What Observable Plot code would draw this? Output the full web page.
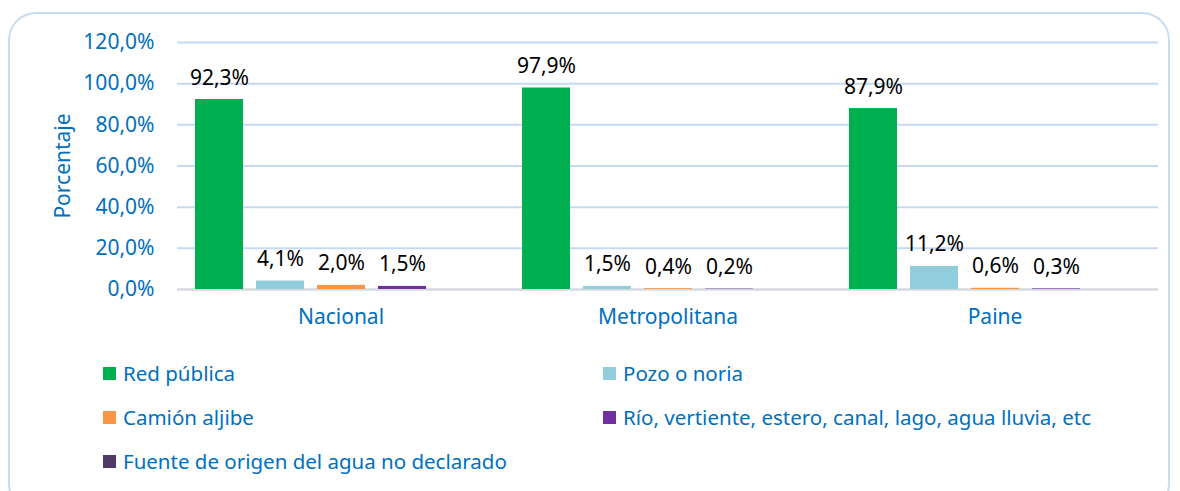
<!DOCTYPE html>
<html>
<head>
<meta charset="utf-8">
<script src="https://cdn.jsdelivr.net/npm/d3@7"></script>
<script src="https://cdn.jsdelivr.net/npm/@observablehq/plot@0.6"></script>
<style>
  html, body { margin: 0; padding: 0; background: #fff; width: 1180px; height: 491px; overflow: hidden; font-family: "Noto Sans", sans-serif; }
  #card { position: absolute; left: 8px; top: 12px; width: 1162px; height: 500px; border: 2px solid #c9dcf0; border-radius: 28px; box-sizing: border-box; }
  #chart { position: absolute; left: 0; top: 0; }
  #ylabel { position: absolute; left: 62px; top: 166px; transform: translate(-50%, -50%) rotate(-90deg); color: #0070c0; font-size: 21px; white-space: nowrap; }
  .leg { position: absolute; display: flex; align-items: center; color: #0070c0; font-size: 20.5px; white-space: nowrap; }
  .leg .sw { width: 13px; height: 13px; margin-right: 7px; }
</style>
</head>
<body>
<div id="card"></div>
<div id="chart"></div>
<div id="ylabel">Porcentaje</div>
<div id="legend"></div>
<script>
const regions = ["Nacional", "Metropolitana", "Paine"];
const series = ["Red pública", "Pozo o noria", "Camión aljibe", "Río, vertiente, estero, canal, lago, agua lluvia, etc", "Fuente de origen del agua no declarado"];
const colors = ["#00b050", "#92cddc", "#f79646", "#7030a0", "#4f3a66"];
const redPublica = [92.3, 97.9, 87.9];
const pozoNoria = [4.1, 1.5, 11.2];
const camionAljibe = [2.0, 0.4, 0.6];
const rioVertiente = [1.5, 0.2, 0.3];
const noDeclarado = [null, null, null];
const yTicks = [0, 20, 40, 60, 80, 100, 120];

const seriesValues = [redPublica, pozoNoria, camionAljibe, rioVertiente, noDeclarado];
const data = [];
regions.forEach((r, i) => {
  series.forEach((s, j) => {
    const v = seriesValues[j][i];
    if (v != null) data.push({region: r, series: s, value: v});
  });
});
const fmt = v => v.toFixed(1).replace(".", ",") + "%";

const chart = Plot.plot({
  width: 1180,
  height: 340,
  marginLeft: 176,
  marginRight: 22,
  marginTop: 42,
  marginBottom: 51,
  style: {fontFamily: "Noto Sans", fontSize: "21px", background: "transparent"},
  fx: {domain: regions, paddingInner: 0, paddingOuter: 0, label: null, axis: null},
  x: {domain: series, paddingInner: 0.22, paddingOuter: 0.27, axis: null},
  y: {domain: [0, 120], label: null, axis: null},
  color: {domain: series, range: colors},
  marks: [
    Plot.gridY(yTicks, {stroke: "#c5d9f1", strokeOpacity: 1, strokeWidth: 2}),
    Plot.ruleY([0], {stroke: "#d9d9d9", strokeWidth: 2}),
    Plot.barY(data, {fx: "region", x: "series", y: "value", fill: "series"}),
    Plot.text(data, {fx: "region", x: "series", y: "value", text: d => fmt(d.value), lineAnchor: "bottom", dy: -15, fill: "#000", fontSize: 21}),
    Plot.axisY({ticks: yTicks, tickFormat: fmt, tickSize: 0, tickPadding: 23, fill: "#0070c0", fontSize: 21, label: null}),
    Plot.axisFx({anchor: "bottom", tickSize: 0, tickPadding: 20, fill: "#0070c0", fontSize: 21, label: null})
  ]
});
document.getElementById("chart").appendChild(chart);

const legendPos = [[103, 373], [603, 373], [103, 417], [603, 417], [103, 461]];
const leg = document.getElementById("legend");
series.forEach((s, i) => {
  const d = document.createElement("div");
  d.className = "leg";
  d.style.left = legendPos[i][0] + "px";
  d.style.top = (legendPos[i][1] - 15) + "px";
  d.style.height = "30px";
  const sw = document.createElement("span");
  sw.className = "sw";
  sw.style.background = colors[i];
  d.appendChild(sw);
  const t = document.createElement("span");
  t.textContent = s;
  d.appendChild(t);
  leg.appendChild(d);
});
</script>
</body>
</html>
